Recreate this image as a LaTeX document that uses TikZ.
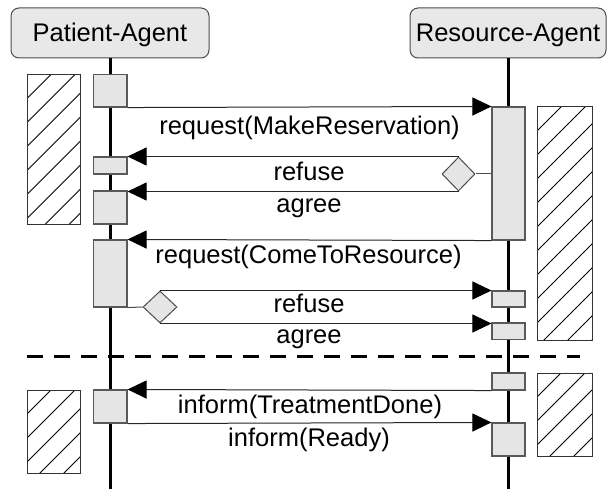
\documentclass[tikz,border=0pt]{standalone}
\usepackage{fontspec}
\setmainfont{Liberation Sans}
\usetikzlibrary{arrows.meta,shapes.geometric}

% box node given by its corners: style, name, x0, y0, x1, y1
\newcommand\rectnode[6]{%
  \node[#1, minimum width={(#5-#3)*1pt}, minimum height={(#6-#4)*1pt}]
    (#2) at ({(#3+#5)/2},{(#4+#6)/2}) {};}

\begin{document}
\begin{tikzpicture}[x=1pt, y=-1pt,
  every node/.style={font=\fontsize{25.5}{30}\selectfont},
  head/.style={draw=black!70, fill=black!9, line width=1pt, rounded corners=8pt,
    minimum height=50pt, inner sep=0pt, text height=19.4pt, text depth=2pt},
  life/.style={line width=3pt, black},
  act/.style={draw=black!65, fill=black!10, line width=1.1pt, inner sep=0pt},
  hatchbox/.style={draw=black!80, fill=white, line width=1pt, inner sep=0pt,
    path picture={
      \foreach \k in {1,...,14}
        \draw[black, line width=0.8pt]
          (path picture bounding box.north west) ++(\k*24,0) -- ++(-320,320);}},
  msg/.style={draw=black!85, line width=1pt,
    -{Triangle[length=19pt,width=18pt,black]}},
  link/.style={draw=black!70, line width=1pt},
  choice/.style={diamond, draw=black!70, fill=black!10, line width=1pt, inner sep=0pt},
  lbl/.style={anchor=base, inner sep=0pt},
  sep/.style={line width=3pt, black, dash pattern=on 15.5pt off 11.5pt}
]
\useasboundingbox (0,0) rectangle (607,489);

% agents and their lifelines
\node[head, minimum width=198pt] (pa) at (110,33) {Patient-Agent};
\node[head, minimum width=196pt] (ra) at (508,33) {Resource-Agent};
\coordinate (pend) at (110,489);
\coordinate (rend) at (508,489);
\draw[life] (pa.south) -- (pend);
\draw[life] (ra.south) -- (rend);

% idle periods
\rectnode{hatchbox}{h1}{27}{74.5}{80.5}{224}
\rectnode{hatchbox}{h2}{27}{390}{80.5}{473}
\rectnode{hatchbox}{h3}{537}{107}{592}{340}
\rectnode{hatchbox}{h4}{537}{373}{592}{456}

% activations of the patient agent
\rectnode{act}{p1}{93.5}{74.5}{127}{107}
\rectnode{act}{p2}{93.5}{157}{127}{174}
\rectnode{act}{p3}{93.5}{191}{127}{224}
\rectnode{act}{p4}{93.5}{240}{127}{307}
\rectnode{act}{p5}{93.5}{390}{127}{423}

% activations of the resource agent
\rectnode{act}{r1}{492}{107}{525}{240}
\rectnode{act}{r2}{492}{291}{525}{307}
\rectnode{act}{r3}{492}{323}{525}{339.5}
\rectnode{act}{r4}{492}{373}{525}{390}
\rectnode{act}{r5}{492}{423}{525}{456}

% choice points
\node[choice, minimum width=33pt, minimum height=34pt] (d1) at (458.5,174) {};
\node[choice, minimum width=34pt, minimum height=32pt] (d2) at (160,307) {};

% messages
\draw[msg] (p1.south east) -- (r1.north west);
\draw[link] (r1.west |- d1.east) -- (d1.east);
\draw[msg] (d1.north) -- (d1.north -| p2.east);
\draw[msg] (d1.south) -- (d1.south -| p3.east);
\draw[msg] (r1.south west) -- (p4.north east);
\draw[link] (p4.south east) -- (d2.west);
\draw[msg] (d2.north) -- (d2.north -| r2.west);
\draw[msg] (d2.south) -- (d2.south -| r3.west);
\draw[msg] (r4.south west) -- (p5.north east);
\draw[msg] (p5.south east) -- (r5.north west);

% message labels
\node[lbl] (t1) at (309.5,134.5) {request(MakeReservation)};
\node[lbl] (t2) at (309,180) {refuse};
\node[lbl] (t3) at (309,212) {agree};
\node[lbl] (t4) at (308.5,263) {request(ComeToResource)};
\node[lbl] (t5) at (309,312.5) {refuse};
\node[lbl] (t6) at (309,343.5) {agree};
\node[lbl] (t7) at (310,413) {inform(TreatmentDone)};
\node[lbl] (t8) at (309,446.5) {inform(Ready)};

% separator between the two phases
\coordinate (sl) at (27,356);
\coordinate (sr) at (580,356);
\draw[sep] (sl) -- (sr);
\end{tikzpicture}
\end{document}
